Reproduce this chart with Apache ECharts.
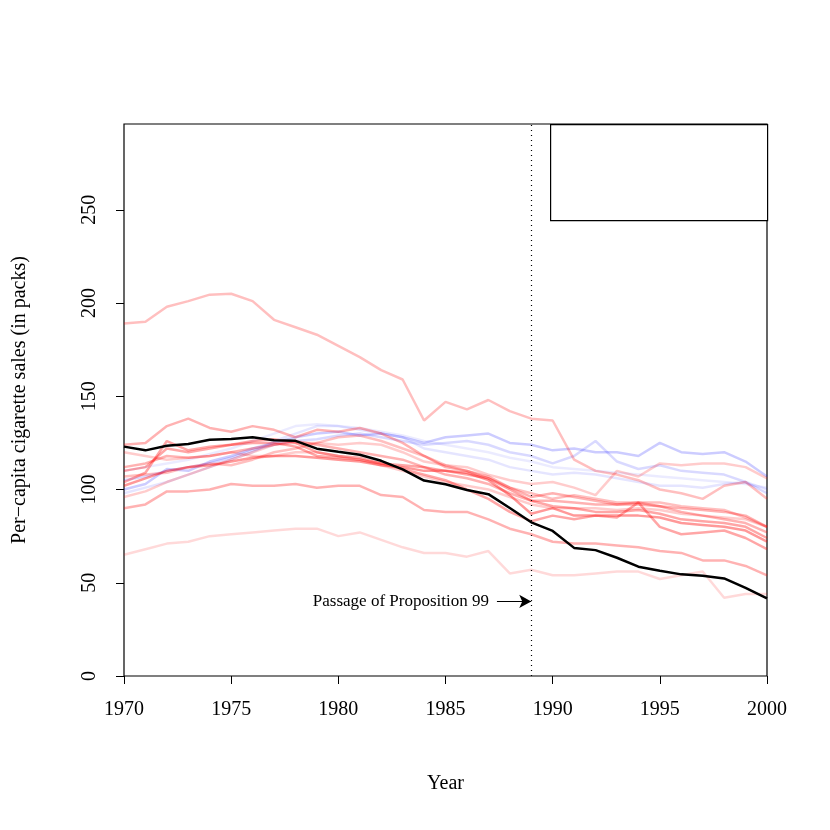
<!DOCTYPE html>
<html><head><meta charset="utf-8">
<script src="https://cdn.jsdelivr.net/npm/echarts@6/dist/echarts.min.js"></script>
<style>html,body{margin:0;padding:0;background:#fff}#c{width:830px;height:830px}</style>
</head><body><div id="c"></div>
<script>
const years = Array.from({length:31},(_,i)=>1970+i);
const california = [123,121,123.5,124.4,126.7,127.1,128,126.4,126.1,121.9,120.2,118.6,115.4,110.8,104.8,102.8,99.7,97.5,90.1,82.4,77.8,68.7,67.5,63.4,58.6,56.4,54.5,53.8,52.3,47.2,41.6];
const redStates = [
 {a:0.25,v:[189,190,198,201,204.5,205,201,191,187,183,177,171,164,159,137,147,143,148,142,138,137,116,110,108,105,100,98,95,102,104,95]},
 {a:0.3,v:[124,125,134,138,133,131,134,132,128,132,131,133,130,125,118,112,110,107,101,96,98,96,94,92,93,91,88,86,84,82,77]},
 {a:0.35,v:[104,109,126,121,123,124,126,127,125,120,118,117,114,113,112,110,108,106,100,94,91,90,88,88,89,87,84,83,82,80,74]},
 {a:0.35,v:[110,112,122,120,122,124,125,125,123,118,117,116,114,111,108,105,100,95,88,83,86,84,86,85,93,80,76,77,78,74,68]},
 {a:0.4,v:[102,106,110,112,113,115,117,118,118,117,116,115,113,112,110,110,109,105,97,87,90,86,86,86,86,85,82,81,80,78,72]},
 {a:0.3,v:[112,114,118,117,118,120,122,124,126,124,122,120,118,116,112,108,106,103,98,94,94,93,92,92,92,91,90,89,88,86,80]},
 {a:0.3,v:[90,92,99,99,100,103,102,102,103,101,102,102,97,96,89,88,88,84,79,76,72,71,71,70,69,67,66,62,62,59,54]},
 {a:0.2,v:[120,118,116,117,118,120,118,118,120,120,118,116,113,110,107,104,102,100,96,92,90,90,90,89,90,89,87,86,85,84,80]},
 {a:0.15,v:[65,68,71,72,75,76,77,78,79,79,75,77,73,69,66,66,64,67,55,57,54,54,55,56,56,52,54,56,42,44,44]},
 {a:0.25,v:[107,108,109,112,114,113,116,120,122,125,128,129,126,122,118,113,110,106,101,98,95,97,95,93,93,93,91,90,89,85,80]},
 {a:0.2,v:[96,99,104,108,112,116,120,124,125,125,124,125,124,120,115,113,112,108,105,103,104,101,97,110,107,114,113,114,114,112,106]}
];
const blueStates = [
 {a:0.2,v:[100,103,111,110,115,118,122,125,128,130,131,129,130,128,125,128,129,130,125,124,121,122,120,120,118,125,120,119,120,115,107]},
 {a:0.15,v:[105,107,110,112,114,117,121,124,126,127,129,130,128,126,124,125,126,124,120,118,114,118,126,115,111,113,110,109,108,104,98]},
 {a:0.1,v:[98,101,104,108,112,116,120,126,130,134,134,132,130,128,122,120,118,116,112,110,108,109,108,106,104,102,102,101,103,104,100]},
 {a:0.08,v:[110,112,114,116,119,122,126,130,134,135,134,133,131,129,126,124,122,120,117,115,112,111,110,109,108,107,106,105,104,103,101]}
];
const xTicks=[1970,1975,1980,1985,1990,1995,2000], yTicks=[0,50,100,150,200,250];
const legendLabels=['California','States with w>0','States with w<0'];
const legendColors=['#000','#f00','#00f'];
const policyYear=1989, arrowY=40, arrowStart=1987.4, annotText='Passage of Proposition 99';
const pair=v=>v.map((y,i)=>[years[i],y]);
const F='Liberation Serif';
const series=[];
blueStates.forEach(s=>series.push({type:'line',data:pair(s.v),symbol:'none',silent:true,lineStyle:{color:`rgba(0,0,255,${s.a})`,width:2.5}}));
redStates.forEach(s=>series.push({type:'line',data:pair(s.v),symbol:'none',silent:true,lineStyle:{color:`rgba(255,0,0,${s.a})`,width:2.5}}));
series.push({type:'line',name:'California',data:pair(california),symbol:'none',lineStyle:{color:'#000',width:2.5},
 markLine:{silent:true,symbol:'none',animation:false,data:[
  [{coord:[policyYear,0],lineStyle:{type:[1,4],color:'#000',width:1.2},label:{show:false}},{coord:[policyYear,296]}],
  [{coord:[arrowStart,arrowY],symbol:'none',lineStyle:{type:'solid',color:'#000',width:1.2},
    label:{show:true,position:'start',formatter:annotText,fontFamily:F,fontSize:17,color:'#000',distance:8}},
   {coord:[policyYear,arrowY],symbol:'arrow',symbolSize:[10,12]}]
 ]}});
const legendChildren=[];
legendLabels.forEach((t,i)=>{
 legendChildren.push({type:'line',shape:{x1:0,y1:12+24*i,x2:40,y2:12+24*i},style:{stroke:legendColors[i],lineWidth:2.5}});
 legendChildren.push({type:'text',x:56,y:3+24*i,style:{text:t,font:'17px "Liberation Serif"',fill:'#000'}});
});
const chart=echarts.init(document.getElementById('c'));
chart.setOption({
 animation:false,
 grid:{left:124,right:63,top:124,bottom:154,show:true,borderColor:'#000',borderWidth:1.2},
 xAxis:{type:'value',min:1970,max:2000,interval:5,name:'Year',nameLocation:'middle',nameGap:98,
  nameTextStyle:{fontFamily:F,fontSize:20,color:'#000'},
  axisLine:{show:false},axisTick:{show:true,inside:false,length:8,lineStyle:{color:'#000'}},
  axisLabel:{fontFamily:F,fontSize:20,color:'#000',margin:24,formatter:v=>xTicks.includes(v)?String(v):''},splitLine:{show:false}},
 yAxis:{type:'value',min:0,max:296,interval:50,name:'Per\u2212capita cigarette sales (in packs)',nameLocation:'middle',nameGap:94,
  nameTextStyle:{fontFamily:F,fontSize:20,color:'#000'},
  axisLine:{show:false},axisTick:{show:true,length:8,lineStyle:{color:'#000'}},
  axisLabel:{fontFamily:F,fontSize:20,color:'#000',rotate:90,margin:24,showMaxLabel:false,
   formatter:v=>yTicks.includes(v)?String(v):''},splitLine:{show:false}},
 series,
 graphic:[
  {type:'rect',left:550,top:124,shape:{width:217,height:96},style:{fill:'#fff',stroke:'#000',lineWidth:1.2},z:100},
  {type:'group',x:566,y:136,z:101,children:legendChildren}
 ]
});
</script></body></html>
